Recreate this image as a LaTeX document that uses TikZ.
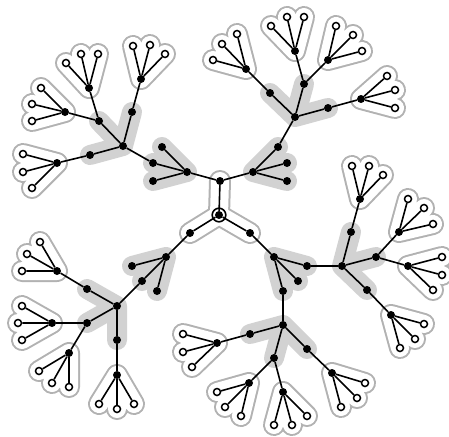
\documentclass[tikz,border=0pt]{standalone}
\usetikzlibrary{backgrounds}

\begin{document}
\begin{tikzpicture}[
  x=1pt, y=-1pt,
  inner/.style={
    circle,
    fill=black,
    inner sep=0pt,
    minimum size=8pt
  },
  leaf/.style={
    circle,
    draw,
    line width=1.5pt,
    fill=white,
    inner sep=0pt,
    minimum size=7pt
  },
  link/.style={line width=1.6pt},
  blob/.style={line width=20pt, draw=gray!35, line cap=round, line join=round},
  rim/.style={line width=2pt, draw=gray!60, double=white, double distance=18pt,
    line cap=round, line join=round}
]
\useasboundingbox (0,0) rectangle (449,436);

% root and its three children
\node[inner] (rt) at (219,215) {};
\node[inner] (a) at (220,181) {};
\node[inner] (b) at (190,233) {};
\node[inner] (c) at (250,233) {};

% upper left
\node[inner] (l1) at (187,172) {};
\node[inner] (l1a) at (162,147) {};
\node[inner] (l1b) at (153,163) {};
\node[inner] (l1c) at (153,181) {};
\node[inner] (ha) at (123,146) {};
\node[inner] (ha1) at (99,121) {};
\node[inner] (ha2) at (132,112) {};
\node[inner] (ha3) at (90,155) {};
\node[inner] (p1) at (89,88) {};
\node[leaf] (p1a) at (66,63) {}; \node[leaf] (p1b) at (81,54) {}; \node[leaf] (p1c) at (98,54) {};
\node[inner] (p2) at (65,112) {};
\node[leaf] (p2a) at (41,88) {}; \node[leaf] (p2b) at (32,104) {}; \node[leaf] (p2c) at (32,121) {};
\node[inner] (p3) at (141,79) {};
\node[leaf] (p3a) at (133,46) {}; \node[leaf] (p3b) at (150,45) {}; \node[leaf] (p3c) at (165,54) {};
\node[inner] (p4) at (57,163) {};
\node[leaf] (p4a) at (23,154) {}; \node[leaf] (p4b) at (23,172) {}; \node[leaf] (p4c) at (32,188) {};

% upper right
\node[inner] (r1) at (253,172) {};
\node[inner] (r1a) at (278,147) {};
\node[inner] (r1b) at (287,163) {};
\node[inner] (r1c) at (287,181) {};
\node[inner] (hb) at (295,117) {};
\node[inner] (hb1) at (270,93) {};
\node[inner] (hb2) at (304,84) {};
\node[inner] (hb3) at (328,108) {};
\node[inner] (q1) at (246,69) {};
\node[leaf] (q1a) at (213,60) {}; \node[leaf] (q1b) at (222,44) {}; \node[leaf] (q1c) at (237,34) {};
\node[inner] (q2) at (295,51) {};
\node[leaf] (q2a) at (271,26) {}; \node[leaf] (q2b) at (287,17) {}; \node[leaf] (q2c) at (304,17) {};
\node[inner] (q3) at (328,60) {};
\node[leaf] (q3a) at (336,26) {}; \node[leaf] (q3b) at (353,35) {}; \node[leaf] (q3c) at (362,51) {};
\node[inner] (q4) at (361,99) {};
\node[leaf] (q4a) at (387,76) {}; \node[leaf] (q4b) at (395,90) {}; \node[leaf] (q4c) at (395,108) {};

% lower left
\node[inner] (l2) at (166,257) {};
\node[inner] (l2a) at (132,266) {};
\node[inner] (l2b) at (142,281) {};
\node[inner] (l2c) at (157,291) {};
\node[inner] (hc) at (117,306) {};
\node[inner] (hc1) at (87,289) {};
\node[inner] (hc2) at (87,323) {};
\node[inner] (hc3) at (117,340) {};
\node[inner] (s1) at (57,271) {};
\node[leaf] (s1a) at (40,242) {}; \node[leaf] (s1b) at (27,254) {}; \node[leaf] (s1c) at (22,271) {};
\node[inner] (s2) at (52,323) {};
\node[leaf] (s2a) at (22,306) {}; \node[leaf] (s2b) at (18,323) {}; \node[leaf] (s2c) at (22,340) {};
\node[inner] (s3) at (69,353) {};
\node[leaf] (s3a) at (39,371) {}; \node[leaf] (s3b) at (52,383) {}; \node[leaf] (s3c) at (69,387) {};
\node[inner] (s4) at (117,375) {};
\node[leaf] (s4a) at (99,404) {}; \node[leaf] (s4b) at (117,409) {}; \node[leaf] (s4c) at (134,404) {};

% lower right
\node[inner] (r2) at (274,257) {};
\node[inner] (r2a) at (307,266) {};
\node[inner] (r2b) at (298,281) {};
\node[inner] (r2c) at (283,291) {};
\node[inner] (hd) at (342,266) {};
\node[inner] (hd1) at (351,232) {};
\node[inner] (hd2) at (376,257) {};
\node[inner] (hd3) at (367,290) {};
\node[inner] (t1) at (360,199) {};
\node[leaf] (t1a) at (352,166) {}; \node[leaf] (t1b) at (369,166) {}; \node[leaf] (t1c) at (383,175) {};
\node[inner] (t2) at (399,232) {};
\node[leaf] (t2a) at (408,199) {}; \node[leaf] (t2b) at (424,208) {}; \node[leaf] (t2c) at (433,224) {};
\node[inner] (t3) at (408,266) {};
\node[leaf] (t3a) at (442,257) {}; \node[leaf] (t3b) at (442,275) {}; \node[leaf] (t3c) at (433,290) {};
\node[inner] (t4) at (391,315) {};
\node[leaf] (t4a) at (424,324) {}; \node[leaf] (t4b) at (415,339) {}; \node[leaf] (t4c) at (400,348) {};
\node[inner] (he) at (283,325) {};
\node[inner] (he1) at (250,334) {};
\node[inner] (he2) at (274,358) {};
\node[inner] (he3) at (307,349) {};
\node[inner] (u1) at (217,343) {};
\node[leaf] (u1a) at (183,334) {}; \node[leaf] (u1b) at (183,352) {}; \node[leaf] (u1c) at (192,367) {};
\node[inner] (u2) at (249,383) {};
\node[leaf] (u2a) at (217,392) {}; \node[leaf] (u2b) at (225,407) {}; \node[leaf] (u2c) at (241,416) {};
\node[inner] (u3) at (283,392) {};
\node[leaf] (u3a) at (274,425) {}; \node[leaf] (u3b) at (292,425) {}; \node[leaf] (u3c) at (307,416) {};
\node[inner] (u4) at (332,373) {};
\node[leaf] (u4a) at (365,383) {}; \node[leaf] (u4b) at (357,398) {}; \node[leaf] (u4c) at (341,407) {};

\draw[link] (rt.center) circle[radius=6.8pt];

% shaded stars and outlined groups
\begin{pgfonlayer}{background}
\draw[blob] (l1.center) -- (l1a.center) (l1.center) -- (l1b.center) (l1.center) -- (l1c.center);
\draw[blob] (ha.center) -- (ha1.center) (ha.center) -- (ha2.center) (ha.center) -- (ha3.center);
\draw[blob] (r1.center) -- (r1a.center) (r1.center) -- (r1b.center) (r1.center) -- (r1c.center);
\draw[blob] (hb.center) -- (hb1.center) (hb.center) -- (hb2.center) (hb.center) -- (hb3.center);
\draw[blob] (l2.center) -- (l2a.center) (l2.center) -- (l2b.center) (l2.center) -- (l2c.center);
\draw[blob] (hc.center) -- (hc1.center) (hc.center) -- (hc2.center) (hc.center) -- (hc3.center);
\draw[blob] (r2.center) -- (r2a.center) (r2.center) -- (r2b.center) (r2.center) -- (r2c.center);
\draw[blob] (hd.center) -- (hd1.center) (hd.center) -- (hd2.center) (hd.center) -- (hd3.center);
\draw[blob] (he.center) -- (he1.center) (he.center) -- (he2.center) (he.center) -- (he3.center);

\draw[rim] (rt.center) -- (a.center) (rt.center) -- (b.center) (rt.center) -- (c.center);
\draw[rim] (p1.center) -- (p1a.center) (p1.center) -- (p1b.center) (p1.center) -- (p1c.center);
\draw[rim] (p2.center) -- (p2a.center) (p2.center) -- (p2b.center) (p2.center) -- (p2c.center);
\draw[rim] (p3.center) -- (p3a.center) (p3.center) -- (p3b.center) (p3.center) -- (p3c.center);
\draw[rim] (p4.center) -- (p4a.center) (p4.center) -- (p4b.center) (p4.center) -- (p4c.center);
\draw[rim] (q1.center) -- (q1a.center) (q1.center) -- (q1b.center) (q1.center) -- (q1c.center);
\draw[rim] (q2.center) -- (q2a.center) (q2.center) -- (q2b.center) (q2.center) -- (q2c.center);
\draw[rim] (q3.center) -- (q3a.center) (q3.center) -- (q3b.center) (q3.center) -- (q3c.center);
\draw[rim] (q4.center) -- (q4a.center) (q4.center) -- (q4b.center) (q4.center) -- (q4c.center);
\draw[rim] (s1.center) -- (s1a.center) (s1.center) -- (s1b.center) (s1.center) -- (s1c.center);
\draw[rim] (s2.center) -- (s2a.center) (s2.center) -- (s2b.center) (s2.center) -- (s2c.center);
\draw[rim] (s3.center) -- (s3a.center) (s3.center) -- (s3b.center) (s3.center) -- (s3c.center);
\draw[rim] (s4.center) -- (s4a.center) (s4.center) -- (s4b.center) (s4.center) -- (s4c.center);
\draw[rim] (t1.center) -- (t1a.center) (t1.center) -- (t1b.center) (t1.center) -- (t1c.center);
\draw[rim] (t2.center) -- (t2a.center) (t2.center) -- (t2b.center) (t2.center) -- (t2c.center);
\draw[rim] (t3.center) -- (t3a.center) (t3.center) -- (t3b.center) (t3.center) -- (t3c.center);
\draw[rim] (t4.center) -- (t4a.center) (t4.center) -- (t4b.center) (t4.center) -- (t4c.center);
\draw[rim] (u1.center) -- (u1a.center) (u1.center) -- (u1b.center) (u1.center) -- (u1c.center);
\draw[rim] (u2.center) -- (u2a.center) (u2.center) -- (u2b.center) (u2.center) -- (u2c.center);
\draw[rim] (u3.center) -- (u3a.center) (u3.center) -- (u3b.center) (u3.center) -- (u3c.center);
\draw[rim] (u4.center) -- (u4a.center) (u4.center) -- (u4b.center) (u4.center) -- (u4c.center);
\end{pgfonlayer}

% tree edges
\draw[link] (rt) -- (a);
\draw[link] (rt) -- (b);
\draw[link] (rt) -- (c);
\draw[link] (a) -- (l1);
\draw[link] (a) -- (r1);
\draw[link] (b) -- (l2);
\draw[link] (c) -- (r2);

\draw[link] (l1) -- (l1a) (l1) -- (l1b) (l1) -- (l1c);
\draw[link] (l1b) -- (ha);
\draw[link] (ha) -- (ha1) (ha) -- (ha2) (ha) -- (ha3);
\draw[link] (ha1) -- (p1) (ha1) -- (p2) (ha2) -- (p3) (ha3) -- (p4);
\draw[link] (p1) -- (p1a) (p1) -- (p1b) (p1) -- (p1c);
\draw[link] (p2) -- (p2a) (p2) -- (p2b) (p2) -- (p2c);
\draw[link] (p3) -- (p3a) (p3) -- (p3b) (p3) -- (p3c);
\draw[link] (p4) -- (p4a) (p4) -- (p4b) (p4) -- (p4c);

\draw[link] (r1) -- (r1a) (r1) -- (r1b) (r1) -- (r1c);
\draw[link] (r1a) -- (hb);
\draw[link] (hb) -- (hb1) (hb) -- (hb2) (hb) -- (hb3);
\draw[link] (hb1) -- (q1) (hb2) -- (q2) (hb2) -- (q3) (hb3) -- (q4);
\draw[link] (q1) -- (q1a) (q1) -- (q1b) (q1) -- (q1c);
\draw[link] (q2) -- (q2a) (q2) -- (q2b) (q2) -- (q2c);
\draw[link] (q3) -- (q3a) (q3) -- (q3b) (q3) -- (q3c);
\draw[link] (q4) -- (q4a) (q4) -- (q4b) (q4) -- (q4c);

\draw[link] (l2) -- (l2a) (l2) -- (l2b) (l2) -- (l2c);
\draw[link] (l2b) -- (hc);
\draw[link] (hc) -- (hc1) (hc) -- (hc2) (hc) -- (hc3);
\draw[link] (hc1) -- (s1) (hc2) -- (s2) (hc2) -- (s3) (hc3) -- (s4);
\draw[link] (s1) -- (s1a) (s1) -- (s1b) (s1) -- (s1c);
\draw[link] (s2) -- (s2a) (s2) -- (s2b) (s2) -- (s2c);
\draw[link] (s3) -- (s3a) (s3) -- (s3b) (s3) -- (s3c);
\draw[link] (s4) -- (s4a) (s4) -- (s4b) (s4) -- (s4c);

\draw[link] (r2) -- (r2a) (r2) -- (r2b) (r2) -- (r2c);
\draw[link] (r2a) -- (hd);
\draw[link] (r2c) -- (he);
\draw[link] (hd) -- (hd1) (hd) -- (hd2) (hd) -- (hd3);
\draw[link] (hd1) -- (t1) (hd2) -- (t2) (hd2) -- (t3) (hd3) -- (t4);
\draw[link] (t1) -- (t1a) (t1) -- (t1b) (t1) -- (t1c);
\draw[link] (t2) -- (t2a) (t2) -- (t2b) (t2) -- (t2c);
\draw[link] (t3) -- (t3a) (t3) -- (t3b) (t3) -- (t3c);
\draw[link] (t4) -- (t4a) (t4) -- (t4b) (t4) -- (t4c);
\draw[link] (he) -- (he1) (he) -- (he2) (he) -- (he3);
\draw[link] (he1) -- (u1) (he2) -- (u2) (he2) -- (u3) (he3) -- (u4);
\draw[link] (u1) -- (u1a) (u1) -- (u1b) (u1) -- (u1c);
\draw[link] (u2) -- (u2a) (u2) -- (u2b) (u2) -- (u2c);
\draw[link] (u3) -- (u3a) (u3) -- (u3b) (u3) -- (u3c);
\draw[link] (u4) -- (u4a) (u4) -- (u4b) (u4) -- (u4c);

\end{tikzpicture}
\end{document}
